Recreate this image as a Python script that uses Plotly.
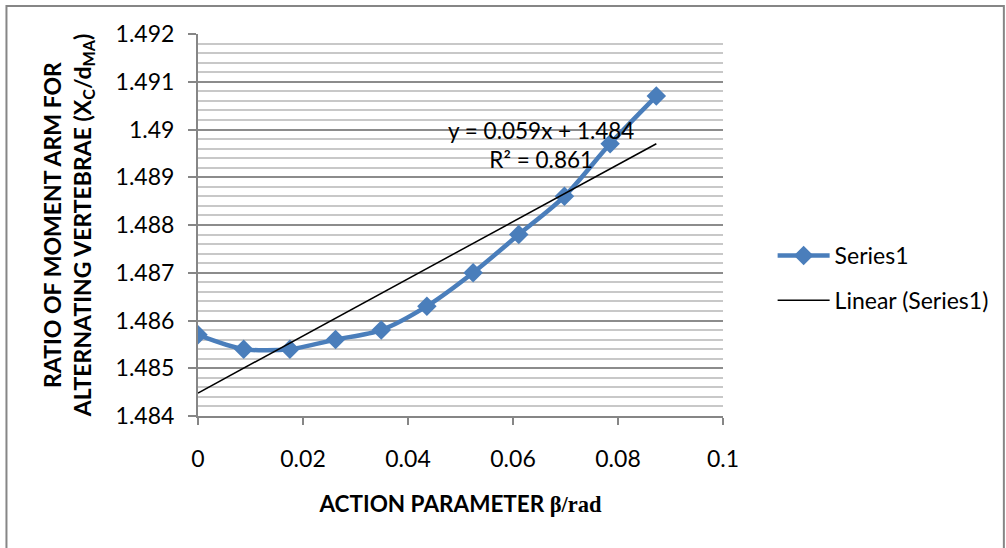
import numpy as np
import plotly.graph_objects as go

# Data
beta = [0.0, 0.0087, 0.0175, 0.0262, 0.0349, 0.0436, 0.0524, 0.0611, 0.0698, 0.0785, 0.0873]
ratio = [1.4857, 1.4854, 1.4854, 1.4856, 1.4858, 1.4863, 1.4870, 1.4878, 1.4886, 1.4897, 1.4907]
x_ticks = [0, 0.02, 0.04, 0.06, 0.08, 0.1]
x_tick_labels = ["0", "0.02", "0.04", "0.06", "0.08", "0.1"]
y_ticks = [1.484, 1.485, 1.486, 1.487, 1.488, 1.489, 1.49, 1.491, 1.492]
y_tick_labels = ["1.484", "1.485", "1.486", "1.487", "1.488", "1.489", "1.49", "1.491", "1.492"]

# Linear trendline (least squares fit of the series)
slope, intercept = np.polyfit(beta, ratio, 1)
trend_x = [beta[0], beta[-1]]
trend_y = [slope * v + intercept for v in trend_x]

FONT = "Lato"
fig = go.Figure()
fig.add_trace(go.Scatter(
    x=beta, y=ratio, mode="lines+markers", name="Series1", legendgroup="a",
    line=dict(color="#4a7ebb", width=4.5, shape="spline", smoothing=0.8),
    marker=dict(symbol="diamond", size=15, color="#4a7ebb"),
))
fig.add_trace(go.Scatter(
    x=trend_x, y=trend_y, mode="lines", name="Linear (Series1)", legendgroup="b",
    line=dict(color="black", width=1.5),
))

L, R, T, B = 198, 279, 34, 132
fig.update_layout(
    width=1006, height=548,
    margin=dict(l=L, r=R, t=T, b=B, pad=0),
    paper_bgcolor="white", plot_bgcolor="white",
    font=dict(family=FONT, size=21, color="#000000"),
    showlegend=True,
    legend=dict(x=(777 - L) / 529, y=(416 - 278) / 382, xanchor="left", yanchor="middle",
                font=dict(family=FONT, size=23), tracegroupgap=12, traceorder="grouped",
                itemwidth=52, bgcolor="rgba(0,0,0,0)"),
    xaxis=dict(
        range=[0, 0.1], tickvals=x_ticks, ticktext=x_tick_labels,
        showgrid=False, zeroline=False,
        showline=True, linecolor="#868686", linewidth=2,
        ticks="outside", ticklen=7, tickcolor="#868686", tickwidth=1.5,
        ticklabelstandoff=14,
        tickfont=dict(family=FONT, size=23),
        title=dict(text="<b>ACTION PARAMETER <span style='font-family:Liberation Serif'>β/rad</span></b>",
                   font=dict(family=FONT, size=22.5), standoff=26),
    ),
    yaxis=dict(
        range=[1.484, 1.492], tickvals=y_ticks, ticktext=y_tick_labels,
        showgrid=True, gridcolor="#8c8c8c", gridwidth=1.5, zeroline=False,
        minor=dict(dtick=0.0002, showgrid=True, gridcolor="#c8c8c8", gridwidth=1.5, ticks=""),
        showline=True, linecolor="#868686", linewidth=2,
        ticks="outside", ticklen=8, tickcolor="#868686", tickwidth=1.5,
        ticklabelstandoff=9,
        tickfont=dict(family=FONT, size=23),
        title=dict(text="<b>RATIO OF MOMENT ARM FOR<br>ALTERNATING VERTEBRAE (X<sub>C</sub>/d<sub>MA</sub>)</b>",
                   font=dict(family=FONT, size=23), standoff=18),
    ),
    annotations=[
        dict(x=0.0654, y=1.489675, xref="x", yref="y", showarrow=False,
             text="y = 0.059x + 1.484<br>R² = 0.861", align="center",
             font=dict(family=FONT, size=22.5)),
    ],
    shapes=[
        dict(type="rect", xref="paper", yref="paper",
             x0=(5 - L) / 529, x1=(1010 - L) / 529,
             y0=(416 - 552) / 382, y1=(416 - 6) / 382,
             line=dict(color="#868686", width=2), fillcolor="rgba(0,0,0,0)", layer="below"),
    ],
)
fig.write_html("out.html")
